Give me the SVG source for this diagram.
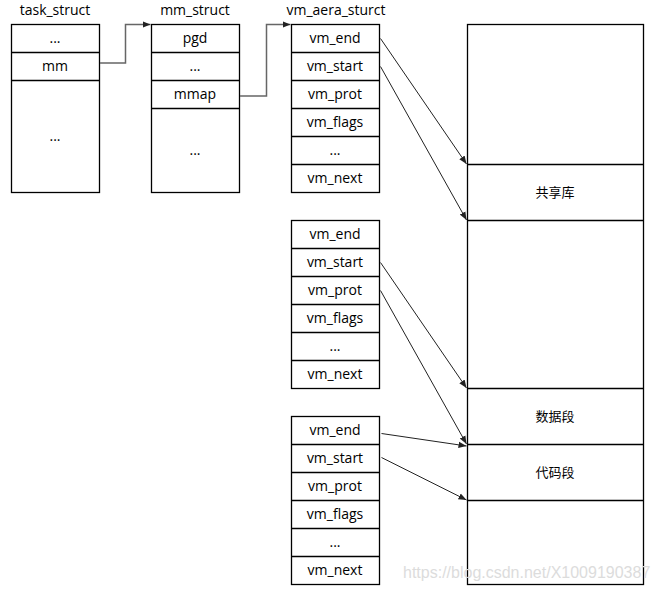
<svg xmlns="http://www.w3.org/2000/svg" width="657" height="591" viewBox="0 0 657 591">
<style>
.box{fill:#fff;stroke:#000;stroke-width:1.3}
.ln{stroke:#000;stroke-width:1.3}
.t{font-family:"Open Sans","Noto Sans","DejaVu Sans",sans-serif;font-size:14px;fill:#000;text-anchor:middle}
.c{font-family:"Noto Sans CJK SC","Noto Sans",sans-serif;font-size:13px;fill:#000;text-anchor:middle}
.elb{fill:none;stroke:#666;stroke-width:1.5}
.dg{fill:none;stroke:#222;stroke-width:1}
.wm{font-family:"Liberation Sans",Arial,sans-serif;font-size:16px;fill:#dcdcdc}
</style>
<defs>
<marker id="ah" viewBox="0 0 10 10" refX="10" refY="5" markerWidth="8" markerHeight="8" markerUnits="userSpaceOnUse" orient="auto">
<path d="M0,1 L10,5 L0,9 z" fill="#222"/>
</marker>
</defs>
<g id="task_struct">
<text class="t" x="55" y="15">task_struct</text>
<rect class="box" x="11.5" y="24.5" width="88" height="168"/>
<line class="ln" x1="11.5" y1="52.5" x2="99.5" y2="52.5"/>
<line class="ln" x1="11.5" y1="80.5" x2="99.5" y2="80.5"/>
<text class="t" x="55" y="43">...</text>
<text class="t" x="55" y="71">mm</text>
<text class="t" x="55" y="141">...</text>
</g>
<g id="mm_struct">
<text class="t" x="195" y="15">mm_struct</text>
<rect class="box" x="151.5" y="24.5" width="88" height="168"/>
<line class="ln" x1="151.5" y1="52.5" x2="239.5" y2="52.5"/>
<line class="ln" x1="151.5" y1="80.5" x2="239.5" y2="80.5"/>
<line class="ln" x1="151.5" y1="108.5" x2="239.5" y2="108.5"/>
<text class="t" x="195" y="43">pgd</text>
<text class="t" x="195" y="71">...</text>
<text class="t" x="195" y="99">mmap</text>
<text class="t" x="195" y="155">...</text>
</g>
<g id="vm1">
<text class="t" x="336" y="15">vm_aera_sturct</text>
<rect class="box" x="291.5" y="24.5" width="88" height="168"/>
<line class="ln" x1="291.5" y1="52.5" x2="379.5" y2="52.5"/>
<line class="ln" x1="291.5" y1="80.5" x2="379.5" y2="80.5"/>
<line class="ln" x1="291.5" y1="108.5" x2="379.5" y2="108.5"/>
<line class="ln" x1="291.5" y1="136.5" x2="379.5" y2="136.5"/>
<line class="ln" x1="291.5" y1="164.5" x2="379.5" y2="164.5"/>
<text class="t" x="335" y="43">vm_end</text>
<text class="t" x="335" y="71">vm_start</text>
<text class="t" x="335" y="99">vm_prot</text>
<text class="t" x="335" y="127">vm_flags</text>
<text class="t" x="335" y="155">...</text>
<text class="t" x="335" y="183">vm_next</text>
</g>
<g id="vm2">
<rect class="box" x="291.5" y="220.5" width="88" height="168"/>
<line class="ln" x1="291.5" y1="248.5" x2="379.5" y2="248.5"/>
<line class="ln" x1="291.5" y1="276.5" x2="379.5" y2="276.5"/>
<line class="ln" x1="291.5" y1="304.5" x2="379.5" y2="304.5"/>
<line class="ln" x1="291.5" y1="332.5" x2="379.5" y2="332.5"/>
<line class="ln" x1="291.5" y1="360.5" x2="379.5" y2="360.5"/>
<text class="t" x="335" y="239">vm_end</text>
<text class="t" x="335" y="267">vm_start</text>
<text class="t" x="335" y="295">vm_prot</text>
<text class="t" x="335" y="323">vm_flags</text>
<text class="t" x="335" y="351">...</text>
<text class="t" x="335" y="379">vm_next</text>
</g>
<g id="vm3">
<rect class="box" x="291.5" y="416.5" width="88" height="168"/>
<line class="ln" x1="291.5" y1="444.5" x2="379.5" y2="444.5"/>
<line class="ln" x1="291.5" y1="472.5" x2="379.5" y2="472.5"/>
<line class="ln" x1="291.5" y1="500.5" x2="379.5" y2="500.5"/>
<line class="ln" x1="291.5" y1="528.5" x2="379.5" y2="528.5"/>
<line class="ln" x1="291.5" y1="556.5" x2="379.5" y2="556.5"/>
<text class="t" x="335" y="435">vm_end</text>
<text class="t" x="335" y="463">vm_start</text>
<text class="t" x="335" y="491">vm_prot</text>
<text class="t" x="335" y="519">vm_flags</text>
<text class="t" x="335" y="547">...</text>
<text class="t" x="335" y="575">vm_next</text>
</g>
<g id="memory">
<rect class="box" x="467.5" y="24.5" width="176" height="560"/>
<line class="ln" x1="467.5" y1="164.5" x2="643.5" y2="164.5"/>
<line class="ln" x1="467.5" y1="220.5" x2="643.5" y2="220.5"/>
<line class="ln" x1="467.5" y1="388.5" x2="643.5" y2="388.5"/>
<line class="ln" x1="467.5" y1="444.5" x2="643.5" y2="444.5"/>
<line class="ln" x1="467.5" y1="500.5" x2="643.5" y2="500.5"/>
<text class="c" x="555" y="197">共享库</text>
<text class="c" x="555" y="421">数据段</text>
<text class="c" x="555" y="477">代码段</text>
</g>
<g id="connectors">
<path class="elb" d="M100,63 H125.5 V24.5 H150.5" marker-end="url(#ah)"/>
<path class="elb" d="M240,96 H266.5 V24.5 H290.5" marker-end="url(#ah)"/>
<line class="dg" x1="380.5" y1="38.5" x2="466.5" y2="164" marker-end="url(#ah)"/>
<line class="dg" x1="380.5" y1="66.5" x2="466.5" y2="220" marker-end="url(#ah)"/>
<line class="dg" x1="380.5" y1="262.5" x2="466.5" y2="388" marker-end="url(#ah)"/>
<line class="dg" x1="380.5" y1="290.5" x2="466.5" y2="444" marker-end="url(#ah)"/>
<line class="dg" x1="381.5" y1="433.5" x2="466.5" y2="446" marker-end="url(#ah)"/>
<line class="dg" x1="381.5" y1="457.5" x2="466.5" y2="500" marker-end="url(#ah)"/>
</g>
<text class="wm" x="403" y="578">https://blog.csdn.net/X1009190387</text>
</svg>
